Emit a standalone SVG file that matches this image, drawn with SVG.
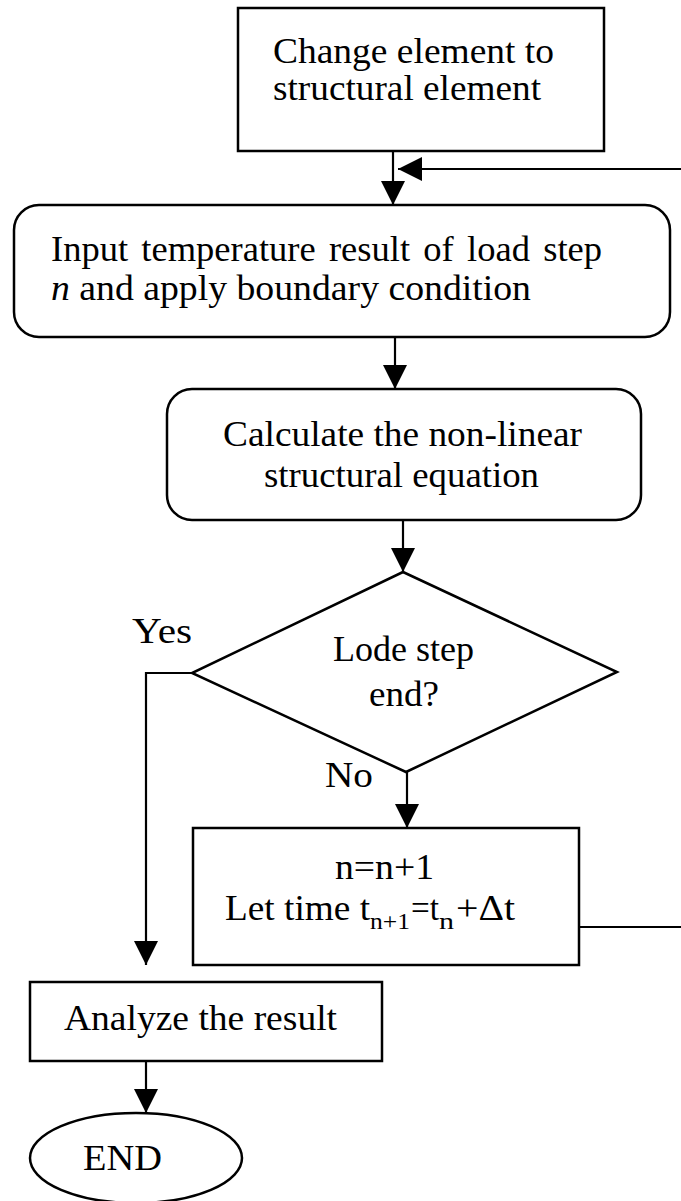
<svg xmlns="http://www.w3.org/2000/svg" width="681" height="1201" viewBox="0 0 681 1201">
<style>
.shape{fill:#fff;stroke:#000;stroke-width:2.5}
.conn{fill:none;stroke:#000;stroke-width:2.2}
.t{font-family:"Liberation Serif","Times New Roman",serif;font-size:35px;fill:#000}
.sub{font-size:24px}
</style>
<defs>
<marker id="ah" viewBox="0 0 24 24" refX="24" refY="12" markerWidth="24" markerHeight="24" markerUnits="userSpaceOnUse" orient="auto">
<path d="M0,0 L24,12 L0,24 Z" fill="#000"/>
</marker>
</defs>
<rect width="681" height="1201" fill="#fff"/>
<g id="connectors">
<line class="conn" x1="393" y1="151" x2="393" y2="205" marker-end="url(#ah)"/>
<path class="conn" d="M579,927 H700 V169 H398" marker-end="url(#ah)"/>
<line class="conn" x1="395" y1="338" x2="395" y2="389" marker-end="url(#ah)"/>
<line class="conn" x1="403" y1="520" x2="403" y2="572" marker-end="url(#ah)"/>
<line class="conn" x1="407" y1="772" x2="407" y2="828" marker-end="url(#ah)"/>
<path class="conn" d="M192,673 H146 V965" marker-end="url(#ah)"/>
<line class="conn" x1="146" y1="1061" x2="146" y2="1113" marker-end="url(#ah)"/>
</g>
<g id="node-change">
<rect class="shape" x="238" y="8" width="366" height="143"/>
<text class="t" x="273" y="63" textLength="281" lengthAdjust="spacingAndGlyphs">Change element to</text>
<text class="t" x="273" y="100" textLength="268" lengthAdjust="spacingAndGlyphs">structural element</text>
</g>
<g id="node-input">
<rect class="shape" x="14" y="205" width="656" height="132" rx="25" ry="25"/>
<text class="t" x="51" y="261" textLength="551" lengthAdjust="spacingAndGlyphs" word-spacing="4">Input temperature result of load step</text>
<text class="t" x="51" y="300" textLength="480" lengthAdjust="spacingAndGlyphs"><tspan font-style="italic">n</tspan> and apply boundary condition</text>
</g>
<g id="node-calc">
<rect class="shape" x="167" y="389" width="474" height="131" rx="25" ry="25"/>
<text class="t" x="223" y="446" textLength="359" lengthAdjust="spacingAndGlyphs">Calculate the non-linear</text>
<text class="t" x="264" y="487" textLength="275" lengthAdjust="spacingAndGlyphs">structural equation</text>
</g>
<g id="node-decision">
<polygon class="shape" points="403,572 617,672 406,772 192,673"/>
<text class="t" x="333" y="661" textLength="141" lengthAdjust="spacingAndGlyphs">Lode step</text>
<text class="t" x="369" y="706" textLength="70" lengthAdjust="spacingAndGlyphs">end?</text>
</g>
<g id="label-yes">
<text class="t" x="132" y="643" textLength="60" lengthAdjust="spacingAndGlyphs">Yes</text>
</g>
<g id="label-no">
<text class="t" x="325" y="787" textLength="48" lengthAdjust="spacingAndGlyphs">No</text>
</g>
<g id="node-increment">
<rect class="shape" x="193" y="828" width="386" height="137"/>
<text class="t" x="335" y="879" textLength="99" lengthAdjust="spacingAndGlyphs">n=n+1</text>
<text class="t" x="225" y="920" textLength="145" lengthAdjust="spacingAndGlyphs">Let time t</text>
<text class="t sub" x="370" y="929" textLength="40" lengthAdjust="spacingAndGlyphs">n+1</text>
<text class="t" x="411" y="920" textLength="28" lengthAdjust="spacingAndGlyphs">=t</text>
<text class="t sub" x="439" y="929" textLength="15" lengthAdjust="spacingAndGlyphs">n</text>
<text class="t" x="456" y="920" textLength="59" lengthAdjust="spacingAndGlyphs">+Δt</text>
</g>
<g id="node-analyze">
<rect class="shape" x="30" y="982" width="352" height="79"/>
<text class="t" x="64" y="1030" textLength="273" lengthAdjust="spacingAndGlyphs">Analyze the result</text>
</g>
<g id="node-end">
<ellipse class="shape" cx="136" cy="1158" rx="106" ry="45"/>
<text class="t" x="83" y="1170" textLength="79" lengthAdjust="spacingAndGlyphs">END</text>
</g>
</svg>
